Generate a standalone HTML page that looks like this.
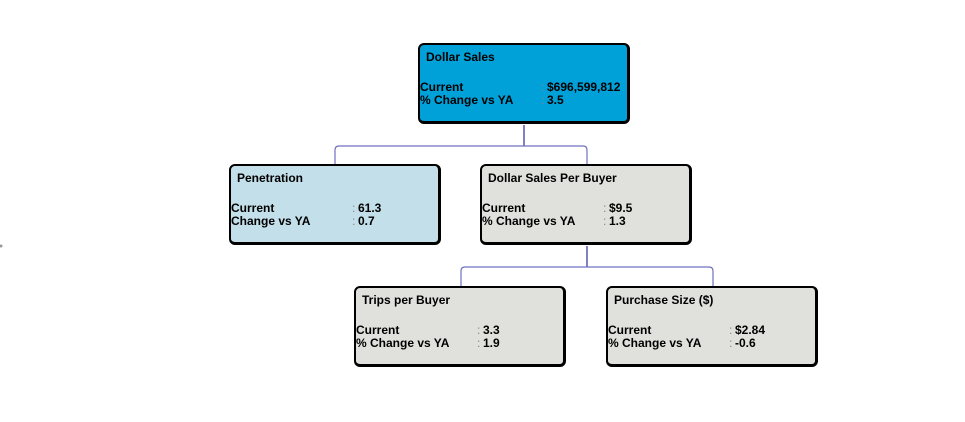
<!DOCTYPE html>
<html><head><style>
body{margin:0;width:965px;height:422px;background:#fff;position:relative;overflow:hidden;font-family:"Liberation Sans",Arial,sans-serif;font-weight:bold;font-size:12px;color:#000}
.b{position:absolute;width:207px;height:76px;border:2px solid #000;border-right-width:3px;border-bottom-width:3px;border-radius:6px}
.t{position:absolute;left:6px;top:5px}
.r{position:absolute;left:0;white-space:nowrap}
.c{position:absolute;left:121px;color:#888;font-weight:normal}
.v{position:absolute;left:127px}
</style></head><body>
<svg width="965" height="422" style="position:absolute;left:0;top:0">
<g fill="none" stroke="#2a2aa0" stroke-width="1.2">
<path d="M524 125 V146"/>
<path d="M335 164 V150 Q335 146 339 146 H583 Q587 146 587 150 V164" stroke="#7070c0"/>
<path d="M587 246 V267"/>
<path d="M461 286 V271 Q461 267 465 267 H709 Q713 267 713 271 V286" stroke="#7070c0"/>
</g>
<circle cx="1" cy="246" r="1.5" fill="#999"/>
</svg>
<div class="b" style="left:418px;top:43px;background:#00a0d8">
<div class="t">Dollar Sales</div>
<div class="r" style="top:35px">Current<span class="c">:</span><span class="v">$696,599,812</span></div>
<div class="r" style="top:48px">% Change vs YA<span class="c">:</span><span class="v">3.5</span></div>
</div>
<div class="b" style="left:229px;top:164px;background:#c2dfea">
<div class="t">Penetration</div>
<div class="r" style="top:35px">Current<span class="c">:</span><span class="v">61.3</span></div>
<div class="r" style="top:48px">Change vs YA<span class="c">:</span><span class="v">0.7</span></div>
</div>
<div class="b" style="left:480px;top:164px;background:#e0e0dc">
<div class="t">Dollar Sales Per Buyer</div>
<div class="r" style="top:35px">Current<span class="c">:</span><span class="v">$9.5</span></div>
<div class="r" style="top:48px">% Change vs YA<span class="c">:</span><span class="v">1.3</span></div>
</div>
<div class="b" style="left:354px;top:286px;background:#e0e0dc">
<div class="t">Trips per Buyer</div>
<div class="r" style="top:35px">Current<span class="c">:</span><span class="v">3.3</span></div>
<div class="r" style="top:48px">% Change vs YA<span class="c">:</span><span class="v">1.9</span></div>
</div>
<div class="b" style="left:606px;top:286px;background:#e0e0dc">
<div class="t">Purchase Size ($)</div>
<div class="r" style="top:35px">Current<span class="c">:</span><span class="v">$2.84</span></div>
<div class="r" style="top:48px">% Change vs YA<span class="c">:</span><span class="v">-0.6</span></div>
</div>
</body></html>
